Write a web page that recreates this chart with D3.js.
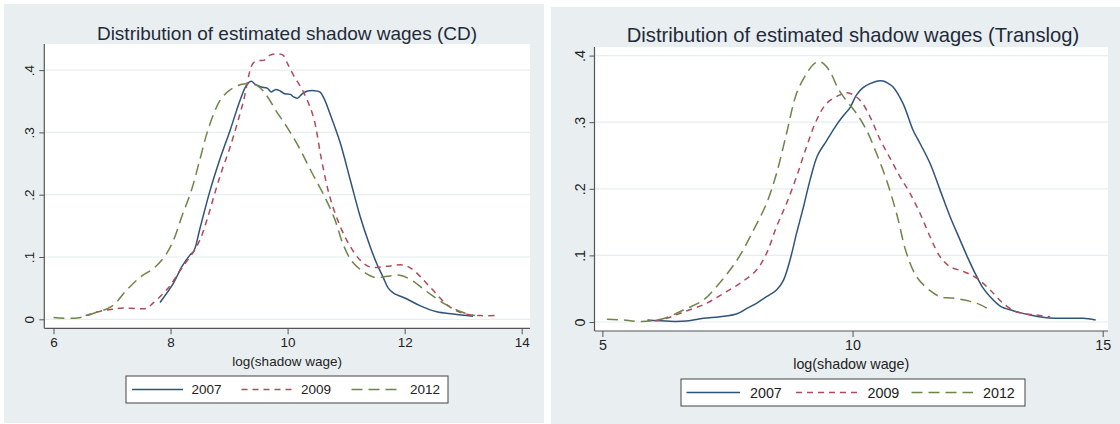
<!DOCTYPE html>
<html>
<head>
<meta charset="utf-8">
<script src="https://cdn.jsdelivr.net/npm/d3@7"></script>
<style>
  html, body { margin: 0; padding: 0; background: #ffffff; }
  svg { display: block; font-family: "Liberation Sans", Arial, sans-serif; }
</style>
</head>
<body>
<svg id="chart" width="1120" height="424"></svg>
<script>
// Kernel density estimates of log(shadow wage), by survey year.
const years = ["2007", "2009", "2012"];
const xAxisTitle = "log(shadow wage)";
const cdTitle = "Distribution of estimated shadow wages (CD)";
const tlTitle = "Distribution of estimated shadow wages (Translog)";
const cdXTicks = [6, 8, 10, 12, 14];
const tlXTicks = [5, 10, 15];
const yTicks = [0, 0.1, 0.2, 0.3, 0.4];
const yTickLabels = ["0", ".1", ".2", ".3", ".4"];

// Cobb-Douglas estimates: [log wage, density]
const cd2007 = [[7.82,0.027],[8.05,0.058],[8.19,0.084],[8.33,0.103],[8.4,0.110],[8.5,0.145],[8.67,0.205],[8.84,0.256],[9.02,0.304],[9.19,0.352],[9.3,0.376],[9.38,0.382],[9.45,0.377],[9.55,0.373],[9.65,0.371],[9.72,0.365],[9.8,0.369],[9.88,0.366],[9.95,0.362],[10.05,0.361],[10.1,0.357],[10.17,0.355],[10.25,0.362],[10.33,0.366],[10.45,0.367],[10.55,0.365],[10.62,0.355],[10.72,0.331],[10.9,0.283],[11.07,0.224],[11.24,0.165],[11.41,0.117],[11.52,0.090],[11.63,0.068],[11.72,0.050],[11.81,0.042],[12.03,0.033],[12.26,0.022],[12.55,0.012],[12.83,0.0085],[13.17,0.005]];
const cd2009 = [[6.55,0.006],[6.8,0.013],[7.0,0.016],[7.19,0.018],[7.48,0.017],[7.6,0.018],[7.7,0.026],[7.88,0.042],[8.0,0.055],[8.19,0.082],[8.39,0.108],[8.5,0.127],[8.62,0.159],[8.79,0.213],[8.9,0.245],[9.02,0.277],[9.24,0.348],[9.41,0.411],[9.5,0.415],[9.6,0.416],[9.7,0.424],[9.8,0.426],[9.92,0.424],[10.0,0.410],[10.1,0.392],[10.27,0.365],[10.44,0.325],[10.58,0.256],[10.72,0.197],[10.9,0.149],[11.07,0.117],[11.24,0.095],[11.41,0.084],[11.69,0.085],[11.98,0.087],[12.15,0.079],[12.43,0.052],[12.77,0.020],[13.06,0.008],[13.3,0.006],[13.6,0.006]];
const cd2012 = [[6.0,0.003],[6.4,0.002],[6.7,0.010],[7.0,0.021],[7.25,0.047],[7.5,0.069],[7.7,0.081],[7.9,0.101],[8.05,0.127],[8.2,0.167],[8.35,0.205],[8.5,0.256],[8.62,0.298],[8.75,0.333],[8.85,0.352],[9.0,0.367],[9.2,0.377],[9.35,0.378],[9.5,0.374],[9.65,0.358],[9.8,0.335],[10.0,0.307],[10.2,0.275],[10.4,0.238],[10.6,0.203],[10.8,0.162],[10.95,0.120],[11.1,0.093],[11.3,0.076],[11.5,0.067],[11.7,0.069],[11.9,0.071],[12.1,0.064],[12.4,0.043],[12.7,0.024],[13.0,0.011],[13.2,0.006]];

// Translog estimates: [log wage, density]
const tl2007 = [[5.9,0.003],[6.1,0.002],[6.35,0.001],[6.68,0.0015],[7.02,0.0055],[7.35,0.008],[7.68,0.012],[7.88,0.020],[8.08,0.028],[8.28,0.038],[8.48,0.048],[8.62,0.063],[8.75,0.093],[8.88,0.133],[9.02,0.173],[9.15,0.213],[9.3,0.250],[9.48,0.272],[9.68,0.296],[9.82,0.310],[9.95,0.322],[10.08,0.341],[10.21,0.352],[10.35,0.358],[10.5,0.362],[10.61,0.362],[10.72,0.358],[10.81,0.353],[11.01,0.328],[11.21,0.288],[11.35,0.268],[11.55,0.238],[11.75,0.198],[11.95,0.158],[12.15,0.123],[12.3,0.097],[12.45,0.073],[12.6,0.052],[12.75,0.038],[12.95,0.024],[13.21,0.017],[13.55,0.0105],[13.88,0.0065],[14.35,0.0055],[14.61,0.0055],[14.86,0.003]];
const tl2009 = [[6.05,0.002],[6.3,0.006],[6.62,0.015],[7.08,0.028],[7.42,0.043],[7.75,0.058],[8.08,0.078],[8.28,0.103],[8.48,0.143],[8.68,0.178],[8.88,0.218],[9.08,0.263],[9.28,0.303],[9.48,0.328],[9.75,0.341],[9.92,0.344],[10.15,0.333],[10.35,0.308],[10.55,0.274],[10.75,0.246],[10.95,0.218],[11.15,0.193],[11.35,0.163],[11.55,0.128],[11.75,0.098],[11.95,0.083],[12.21,0.076],[12.48,0.066],[12.75,0.048],[13.01,0.028],[13.28,0.015],[13.68,0.0105],[13.95,0.008]];
const tl2012 = [[5.09,0.004],[5.4,0.003],[5.69,0.001],[6.02,0.002],[6.28,0.0065],[6.62,0.018],[7.02,0.033],[7.28,0.053],[7.55,0.078],[7.75,0.100],[8.02,0.138],[8.28,0.178],[8.48,0.223],[8.68,0.283],[8.88,0.343],[9.08,0.373],[9.22,0.387],[9.32,0.391],[9.42,0.388],[9.55,0.376],[9.7,0.352],[9.82,0.338],[10.08,0.313],[10.28,0.288],[10.48,0.253],[10.68,0.213],[10.88,0.163],[11.08,0.103],[11.28,0.068],[11.55,0.047],[11.75,0.038],[12.0,0.036],[12.35,0.031],[12.55,0.026],[12.7,0.020]];

const seriesStyle = [
  { color: "#2f5479", dash: null },
  { color: "#b14a5a", dash: "6,5" },
  { color: "#6e8548", dash: "11,6" }
];

const svg = d3.select("#chart");

function drawPanel(cfg) {
  const g = svg.append("g");

  // outer graph region
  g.append("rect")
    .attr("x", cfg.bg[0]).attr("y", cfg.bg[1])
    .attr("width", cfg.bg[2]).attr("height", cfg.bg[3])
    .attr("fill", "#e9eff1");

  // plot region
  g.append("rect")
    .attr("x", cfg.plot[0]).attr("y", cfg.plot[1])
    .attr("width", cfg.plot[2] - cfg.plot[0]).attr("height", cfg.plot[3] - cfg.plot[1])
    .attr("fill", "#ffffff");

  const x = d3.scaleLinear().domain(cfg.xDomain).range(cfg.xRange);
  const y = d3.scaleLinear().domain([0, 0.4]).range(cfg.yRange);

  // horizontal grid
  g.append("g").selectAll("line").data(yTicks).join("line")
    .attr("x1", cfg.plot[0]).attr("x2", cfg.plot[2])
    .attr("y1", d => y(d)).attr("y2", d => y(d))
    .attr("stroke", "#e7edf0").attr("stroke-width", 1.2);

  // density curves
  const line = d3.line()
    .x(d => x(d[0])).y(d => y(d[1]))
    .curve(d3.curveCatmullRom.alpha(0.5));
  cfg.series.forEach((s, i) => {
    g.append("path")
      .datum(s)
      .attr("d", line)
      .attr("fill", "none")
      .attr("stroke", seriesStyle[i].color)
      .attr("stroke-width", 1.5)
      .attr("stroke-dasharray", seriesStyle[i].dash)
      .attr("stroke-linejoin", "round");
  });

  // axes
  const xAxis = d3.axisBottom(x).tickValues(cfg.xTicks).tickFormat(d3.format("d"))
    .tickSize(6).tickPadding(3);
  const xg = g.append("g").attr("transform", `translate(0,${cfg.plot[3]})`).call(xAxis);
  xg.select(".domain").remove();
  xg.selectAll(".tick line").attr("stroke", "#555").attr("stroke-width", 1);
  xg.selectAll(".tick text").attr("fill", "#222").attr("font-size", cfg.tickFont)
    .attr("font-family", "Liberation Sans, Arial, sans-serif");

  const yAxis = d3.axisLeft(y).tickValues(yTicks).tickFormat((d, i) => yTickLabels[i])
    .tickSize(5).tickPadding(0);
  const yg = g.append("g").attr("transform", `translate(${cfg.plot[0]},0)`).call(yAxis);
  yg.select(".domain").remove();
  yg.selectAll(".tick line").attr("stroke", "#555").attr("stroke-width", 1);
  yg.selectAll(".tick text")
    .attr("fill", "#222").attr("font-size", cfg.tickFont)
    .attr("font-family", "Liberation Sans, Arial, sans-serif")
    .attr("x", null).attr("dy", null)
    .attr("text-anchor", "middle")
    .attr("transform", `translate(${cfg.yLabelX - cfg.plot[0]},0) rotate(-90)`)
    .attr("dy", "0.36em");

  // axis lines
  g.append("line")
    .attr("x1", cfg.plot[0]).attr("x2", cfg.plot[0])
    .attr("y1", cfg.plot[1]).attr("y2", cfg.plot[3])
    .attr("stroke", "#555").attr("stroke-width", 1.2);
  g.append("line")
    .attr("x1", cfg.plot[0]).attr("x2", cfg.plot[2])
    .attr("y1", cfg.plot[3]).attr("y2", cfg.plot[3])
    .attr("stroke", "#555").attr("stroke-width", 1.2);

  // title
  g.append("text")
    .attr("x", cfg.titleX).attr("y", cfg.titleY)
    .attr("text-anchor", "middle")
    .attr("font-size", cfg.titleFont)
    .attr("fill", "#1f2a3a")
    .text(cfg.title);

  // x-axis title
  g.append("text")
    .attr("x", (cfg.plot[0] + cfg.plot[2]) / 2).attr("y", cfg.axisTitleY)
    .attr("text-anchor", "middle")
    .attr("font-size", cfg.tickFont)
    .attr("fill", "#222")
    .text(xAxisTitle);

  // legend
  const L = cfg.legend;
  g.append("rect")
    .attr("x", L.box[0]).attr("y", L.box[1])
    .attr("width", L.box[2]).attr("height", L.box[3])
    .attr("fill", "#ffffff").attr("stroke", "#444").attr("stroke-width", 1);
  years.forEach((yr, i) => {
    const ly = L.box[1] + L.box[3] / 2;
    g.append("line")
      .attr("x1", L.keys[i][0]).attr("x2", L.keys[i][1])
      .attr("y1", ly).attr("y2", ly)
      .attr("stroke", seriesStyle[i].color)
      .attr("stroke-width", 1.5)
      .attr("stroke-dasharray", seriesStyle[i].dash);
    g.append("text")
      .attr("x", L.keys[i][2]).attr("y", ly)
      .attr("dy", "0.36em")
      .attr("font-size", cfg.tickFont)
      .attr("fill", "#222")
      .text(yr);
  });
}

drawPanel({
  bg: [4, 4, 540, 419],
  plot: [44.3, 44, 530, 328.3],
  xDomain: [6, 14], xRange: [53.5, 521.7],
  yRange: [319.3, 70.1],
  xTicks: cdXTicks,
  series: [cd2007, cd2009, cd2012],
  tickFont: 13.5,
  yLabelX: 29,
  title: cdTitle, titleX: 287, titleY: 39.5, titleFont: 19,
  axisTitleY: 366,
  legend: { box: [126, 376, 322, 27], keys: [[132, 183, 191.5], [241.5, 293, 301], [351.5, 402, 410]] }
});

drawPanel({
  bg: [551, 7, 569, 417],
  plot: [594.5, 47, 1108, 331],
  xDomain: [5, 15], xRange: [602.4, 1102.7],
  yRange: [322, 55.6],
  xTicks: tlXTicks,
  series: [tl2007, tl2009, tl2012],
  tickFont: 14.3,
  yLabelX: 580,
  title: tlTitle, titleX: 853, titleY: 41.5, titleFont: 20.2,
  axisTitleY: 369,
  legend: { box: [681, 379, 344, 27], keys: [[686.5, 740, 750], [796, 858, 867.5], [911.5, 973, 983]] }
});
</script>
</body>
</html>
